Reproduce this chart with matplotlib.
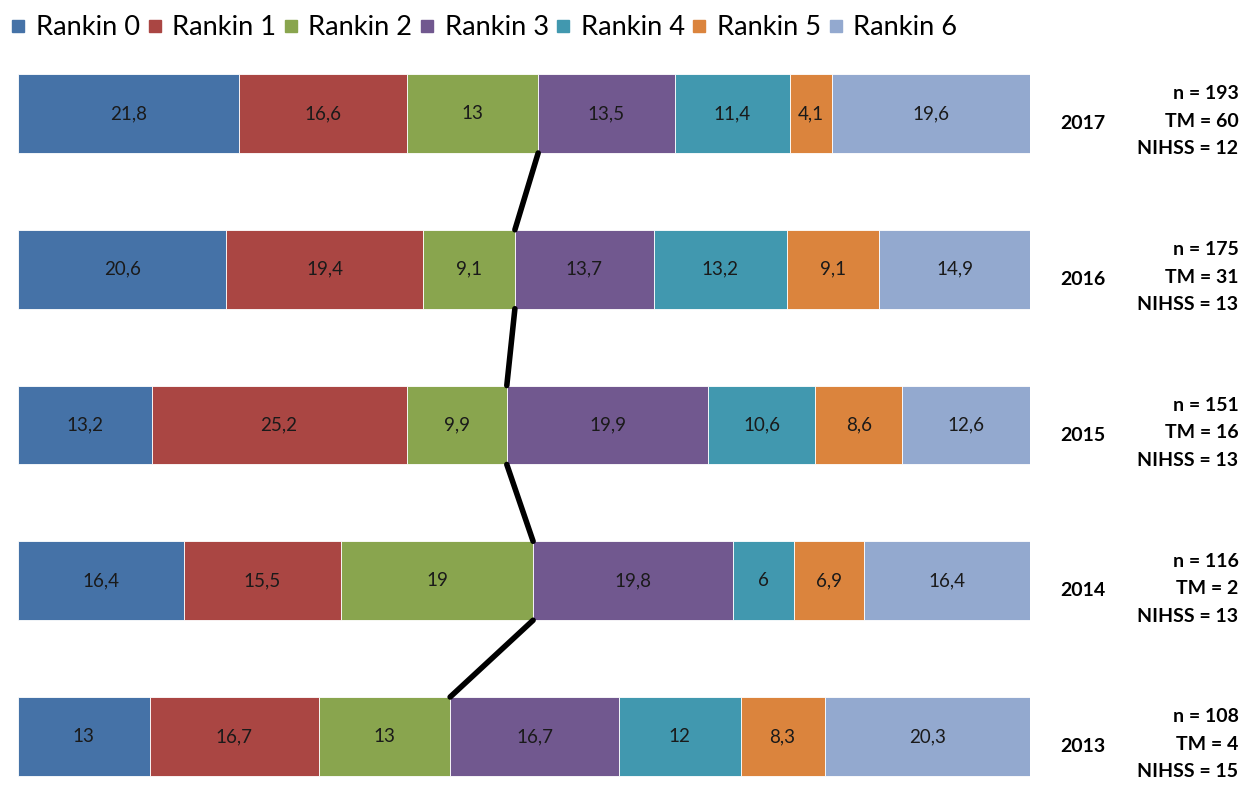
import numpy as np
import matplotlib.pyplot as plt
from matplotlib.lines import Line2D

plt.rcParams['font.family'] = ['Lato', 'DejaVu Sans']

# -------------------------------
# Datos (porcentaje por Rankin)
# -------------------------------
years = ["2013", "2014", "2015", "2016", "2017"]
rankin_labels = ["Rankin 0", "Rankin 1", "Rankin 2", "Rankin 3",
                 "Rankin 4", "Rankin 5", "Rankin 6"]
r0 = [13, 16.4, 13.2, 20.6, 21.8]
r1 = [16.7, 15.5, 25.2, 19.4, 16.6]
r2 = [13, 19, 9.9, 9.1, 13]
r3 = [16.7, 19.8, 19.9, 13.7, 13.5]
r4 = [12, 6, 10.6, 13.2, 11.4]
r5 = [8.3, 6.9, 8.6, 9.1, 4.1]
r6 = [20.3, 16.4, 12.6, 14.9, 19.6]
n_pat = [108, 116, 151, 175, 193]
tm = [4, 2, 16, 31, 60]
nihss = [15, 13, 13, 13, 12]

colors = ["#4572A7", "#AA4643", "#89A54E", "#71588F",
          "#4198AF", "#DB843D", "#93A9CF"]

series = [r0, r1, r2, r3, r4, r5, r6]
ypos = np.arange(len(years))
bar_h = 0.507

fig = plt.figure(figsize=(12.42, 8), dpi=100)
ax = fig.add_axes([18 / 1242, 0.0125, 1012 / 1242, 0.9375])

left = np.zeros(len(years))
for vals, col in zip(series, colors):
    vals = np.array(vals)
    ax.barh(ypos, vals, left=left, height=bar_h, color=col,
            edgecolor="white", linewidth=0.6)
    for y, v, l in zip(ypos, vals, left):
        txt = f"{v:g}".replace(".", ",")
        ax.text(l + v / 2, y, txt, ha="center", va="center",
                fontsize=13.5, color="#1a1a1a")
    left += vals

# Línea que une el límite Rankin 0-2 entre barras
cum = np.array(r0) + np.array(r1) + np.array(r2)
for i in range(len(years) - 1, 0, -1):
    ax.plot([cum[i], cum[i - 1]],
            [ypos[i] - bar_h / 2, ypos[i - 1] + bar_h / 2],
            color="black", lw=4, solid_capstyle="round", zorder=5)

# Etiquetas a la derecha
for i, y in enumerate(ypos):
    ax.text(105.2, y - 0.065, years[i], ha="center", va="center",
            fontsize=14, fontweight="bold", clip_on=False)
    ax.text(120.6, y - 0.05,
            f"n = {n_pat[i]}\nTM = {tm[i]}\nNIHSS = {nihss[i]}",
            ha="right", va="center", fontsize=14, fontweight="bold",
            linespacing=1.75, clip_on=False)

ax.set_xlim(0, 100)
ax.set_ylim(-0.3435, 4.472)
ax.axis("off")

handles = [Line2D([], [], marker="s", linestyle="none", markersize=9,
                  color=c) for c in colors]
fig.legend(handles, rankin_labels, loc="upper left", ncol=7,
           bbox_to_anchor=(-0.006, 1.005), frameon=False, fontsize=19.6,
           handletextpad=0.4, columnspacing=0.28, handlelength=0.5,
           borderpad=0.2)

plt.savefig("out.png", dpi=100)
plt.close()
